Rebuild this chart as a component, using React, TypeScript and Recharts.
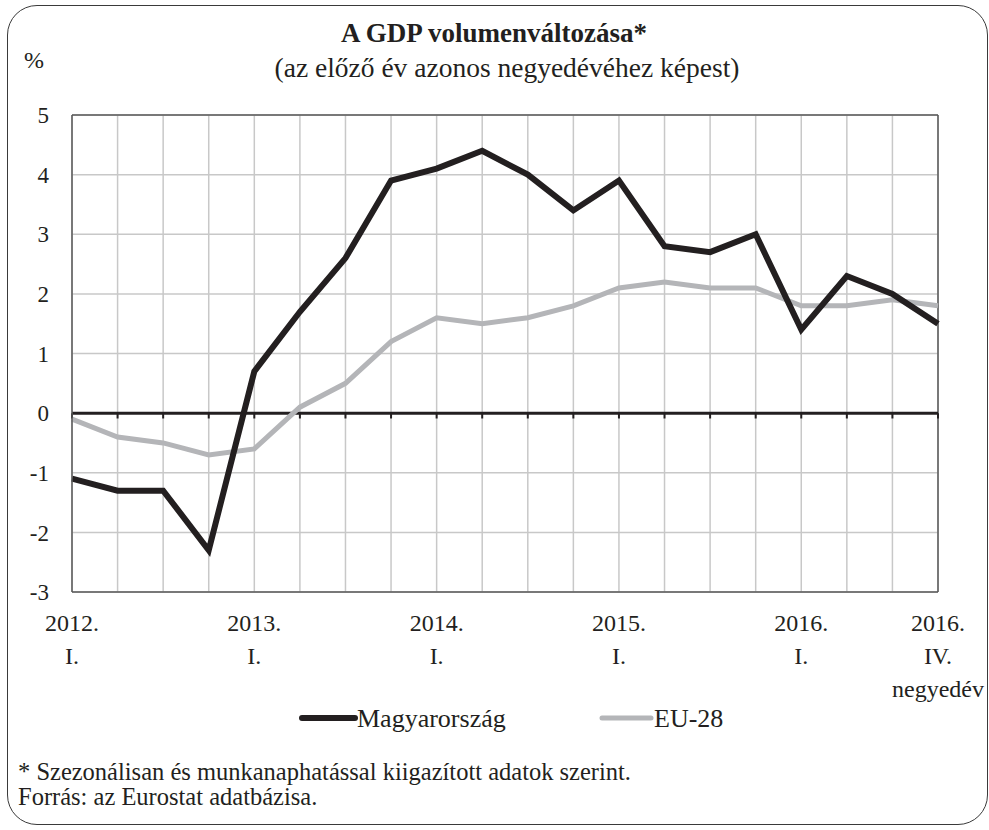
import React from 'react'
import {
  CartesianGrid,
  Line,
  LineChart,
  ReferenceLine,
  XAxis,
  YAxis,
} from 'recharts'

const categories = [
  '2012.I', '2012.II', '2012.III', '2012.IV',
  '2013.I', '2013.II', '2013.III', '2013.IV',
  '2014.I', '2014.II', '2014.III', '2014.IV',
  '2015.I', '2015.II', '2015.III', '2015.IV',
  '2016.I', '2016.II', '2016.III', '2016.IV',
]

const hungary = [
  -1.1, -1.3, -1.3, -2.3,
  0.7, 1.7, 2.6, 3.9,
  4.1, 4.4, 4.0, 3.4,
  3.9, 2.8, 2.7, 3.0,
  1.4, 2.3, 2.0, 1.5,
]

const eu28 = [
  -0.1, -0.4, -0.5, -0.7,
  -0.6, 0.1, 0.5, 1.2,
  1.6, 1.5, 1.6, 1.8,
  2.1, 2.2, 2.1, 2.1,
  1.8, 1.8, 1.9, 1.8,
]

const yTicks = [-3, -2, -1, 0, 1, 2, 3, 4, 5]

const xTickLabels = [
  { cat: '2012.I', lines: ['2012.', 'I.'] },
  { cat: '2013.I', lines: ['2013.', 'I.'] },
  { cat: '2014.I', lines: ['2014.', 'I.'] },
  { cat: '2015.I', lines: ['2015.', 'I.'] },
  { cat: '2016.I', lines: ['2016.', 'I.'] },
  { cat: '2016.IV', lines: ['2016.', 'IV.', 'negyedév'] },
]

const series = [
  { key: 'hu', name: 'Magyarország', color: '#231f20', width: 6 },
  { key: 'eu', name: 'EU-28', color: '#b4b5b8', width: 5 },
]

const FONT = '"Liberation Serif", serif'
const INK = '#231f20'
const FRAME = '#595959'
const txt = { fontFamily: FONT }

const data = categories.map((q, i) => ({ q, hu: hungary[i], eu: eu28[i] }))

const XTick = ({ x, y, payload }: any) => {
  const item = xTickLabels.find(t => t.cat === payload.value)
  if (!item) return null
  return (
    <g>
      {item.lines.map((l, i) => (
        <text
          key={i}
          x={x}
          y={y + 39 + i * 33}
          textAnchor="middle"
          fontSize={24}
          style={txt}
          fill={INK}
        >
          {l}
        </text>
      ))}
    </g>
  )
}

export default function App() {
  return (
    <div style={{ position: 'absolute', left: 0, top: 0, width: 989, height: 830, background: '#fff', fontFamily: FONT }}>
      <div
        style={{
          position: 'absolute',
          left: 7,
          top: 5,
          width: 979,
          height: 818,
          border: '1.5px solid #3a3a3a',
          borderRadius: 30,
        }}
      />
      <LineChart
        width={989}
        height={830}
        data={data}
        margin={{ top: 115, right: 51, left: 32, bottom: 138 }}
        style={{ position: 'absolute', left: 0, top: 0 }}
      >
        <CartesianGrid stroke="#c8c8c8" strokeWidth={1.5} />
        <XAxis
          dataKey="q"
          interval={0}
          height={100}
          tickLine={false}
          tickSize={0}
          tickMargin={0}
          tick={<XTick />}
          axisLine={{ stroke: FRAME, strokeWidth: 1.5 }}
        />
        <YAxis
          width={40}
          domain={[-3, 5]}
          ticks={yTicks}
          tickLine={false}
          tickSize={6}
          tickMargin={17}
          axisLine={{ stroke: FRAME, strokeWidth: 1.5 }}
          tick={{ fontSize: 23, style: txt, fill: INK }}
        />
        <ReferenceLine y={5} stroke={FRAME} strokeWidth={1.5} />
        <ReferenceLine x="2016.IV" stroke={FRAME} strokeWidth={1.5} />
        <ReferenceLine y={0} stroke={INK} strokeWidth={3} />
        {categories.map(c => (
          <ReferenceLine
            key={c}
            segment={[{ x: c, y: 0 }, { x: c, y: -0.09 }]}
            stroke={INK}
            strokeWidth={2}
          />
        ))}
        <Line
          dataKey="eu"
          name="EU-28"
          stroke={series[1].color}
          strokeWidth={series[1].width}
          dot={false}
          isAnimationActive={false}
        />
        <Line
          dataKey="hu"
          name="Magyarország"
          stroke={series[0].color}
          strokeWidth={series[0].width}
          dot={false}
          isAnimationActive={false}
        />
      </LineChart>
      <svg
        width={989}
        height={830}
        style={{ position: 'absolute', left: 0, top: 0, pointerEvents: 'none', fontFamily: FONT }}
        fill={INK}
      >
        <text x={494} y={42} textAnchor="middle" fontSize={27} fontWeight="bold" style={txt}>
          A GDP volumenváltozása*
        </text>
        <text x={507} y={77} textAnchor="middle" fontSize={27.5} style={txt}>
          (az előző év azonos negyedévéhez képest)
        </text>
        <text x={24} y={68} fontSize={24} style={txt}>%</text>
        <line x1={302} x2={355} y1={718} y2={718} stroke={series[0].color} strokeWidth={6} strokeLinecap="round" />
        <text x={357} y={727} fontSize={26} style={txt}>{series[0].name}</text>
        <line x1={602} x2={651} y1={718} y2={718} stroke={series[1].color} strokeWidth={5} strokeLinecap="round" />
        <text x={654} y={727} fontSize={26} style={txt}>{series[1].name}</text>
        <text x={18} y={780} fontSize={24.5} style={txt}>
          * Szezonálisan és munkanaphatással kiigazított adatok szerint.
        </text>
        <text x={18} y={805} fontSize={24.5} style={txt}>
          Forrás: az Eurostat adatbázisa.
        </text>
      </svg>
    </div>
  )
}
